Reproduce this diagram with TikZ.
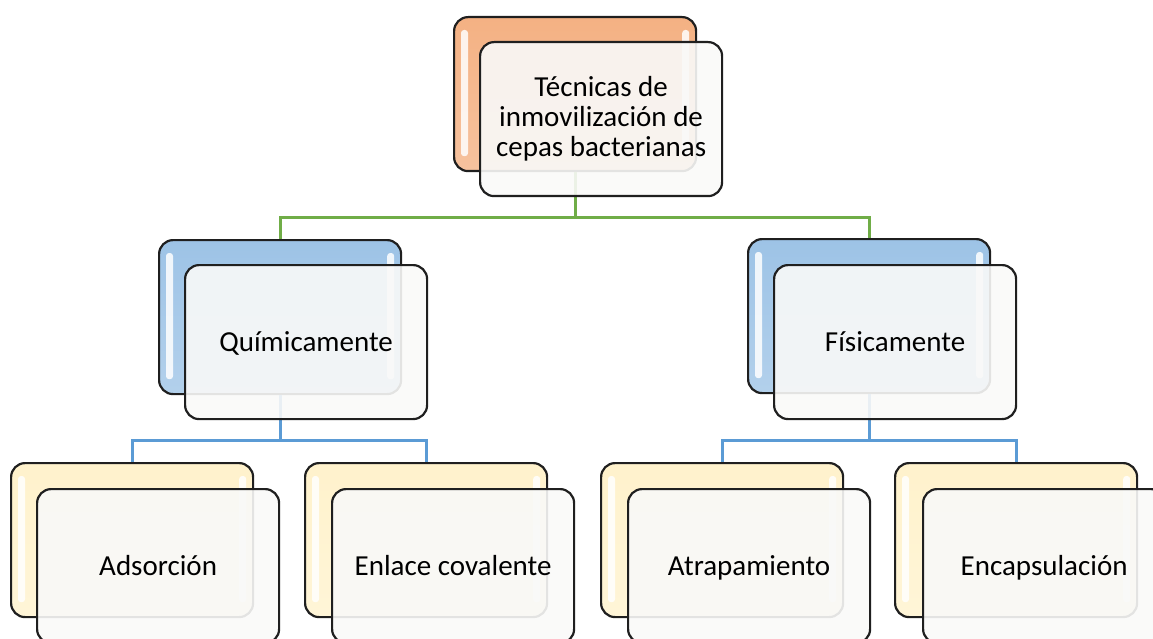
\documentclass[tikz,border=0pt]{standalone}
\usepackage{fontspec}
\setmainfont{Carlito}
\usetikzlibrary{calc}
\definecolor{orangeb}{HTML}{F4B183}
\definecolor{blueb}{HTML}{9DC3E6}
\definecolor{yellowb}{HTML}{FFF2CC}
\definecolor{greenl}{HTML}{70AD47}
\definecolor{bluel}{HTML}{5B9BD5}
\definecolor{frontfill}{HTML}{F9F9F8}
\newcommand\mkback[3]{%
  \node[backbox, top color=#3, bottom color=#3!78!white] (#1) at (#2) {};
  \fill[hl] ([shift={(8,14)}]#1.north west) rectangle ([shift={(15,-16)}]#1.south west);
  \fill[hl] ([shift={(-15,14)}]#1.north east) rectangle ([shift={(-8,-16)}]#1.south east);
}
\begin{document}
\begin{tikzpicture}[x=1pt,y=-1pt,
  backbox/.style={draw=black!88, line width=2.2pt, rounded corners=14pt,
    minimum width=242pt, minimum height=154pt, inner sep=0pt, anchor=north west},
  frontbox/.style={backbox, fill=frontfill, fill opacity=0.9, text opacity=1,
    font=\fontsize{29}{30}\selectfont, align=center},
  frontone/.style={frontbox, text height=18.7pt, text depth=0pt},
  hl/.style={white, fill opacity=0.85, rounded corners=3pt},
  gline/.style={greenl, line width=3pt},
  bline/.style={bluel, line width=3pt}]
\useasboundingbox (0,0) rectangle (1153,639);
\clip (0,0) rectangle (1153,639);
% back boxes
\mkback{topb}{453,16}{orangeb}
\mkback{qb}{158,239}{blueb}
\mkback{fb}{747,238}{blueb}
\mkback{adb}{10,462}{yellowb}
\mkback{enb}{304,462}{yellowb}
\mkback{atb}{600,462}{yellowb}
\mkback{ecb}{894,462}{yellowb}
% connector levels
\coordinate (g) at (0,217);
\coordinate (bl) at (0,440);
\draw[gline] (topb.south) -- (topb.south |- g) -| (qb.north);
\draw[gline] (topb.south |- g) -| (fb.north);
\draw[bline] (qb.south) -- (qb.south |- bl) -| (adb.north);
\draw[bline] (qb.south |- bl) -| (enb.north);
\draw[bline] (fb.south) -- (fb.south |- bl) -| (atb.north);
\draw[bline] (fb.south |- bl) -| (ecb.north);
% front boxes
\node[frontbox] (top) at (479,41) {Técnicas de\\inmovilización de\\cepas bacterianas};
\node[frontone] (q) at (184,264) {Químicamente};
\node[frontone] (f) at (773,264) {Físicamente};
\node[frontone] (ad) at (36,488) {Adsorción};
\node[frontone] (en) at (331,488) {Enlace covalente};
\node[frontone] (at) at (627,488) {Atrapamiento};
\node[frontone] (ec) at (922,488) {Encapsulación};
\end{tikzpicture}
\end{document}
